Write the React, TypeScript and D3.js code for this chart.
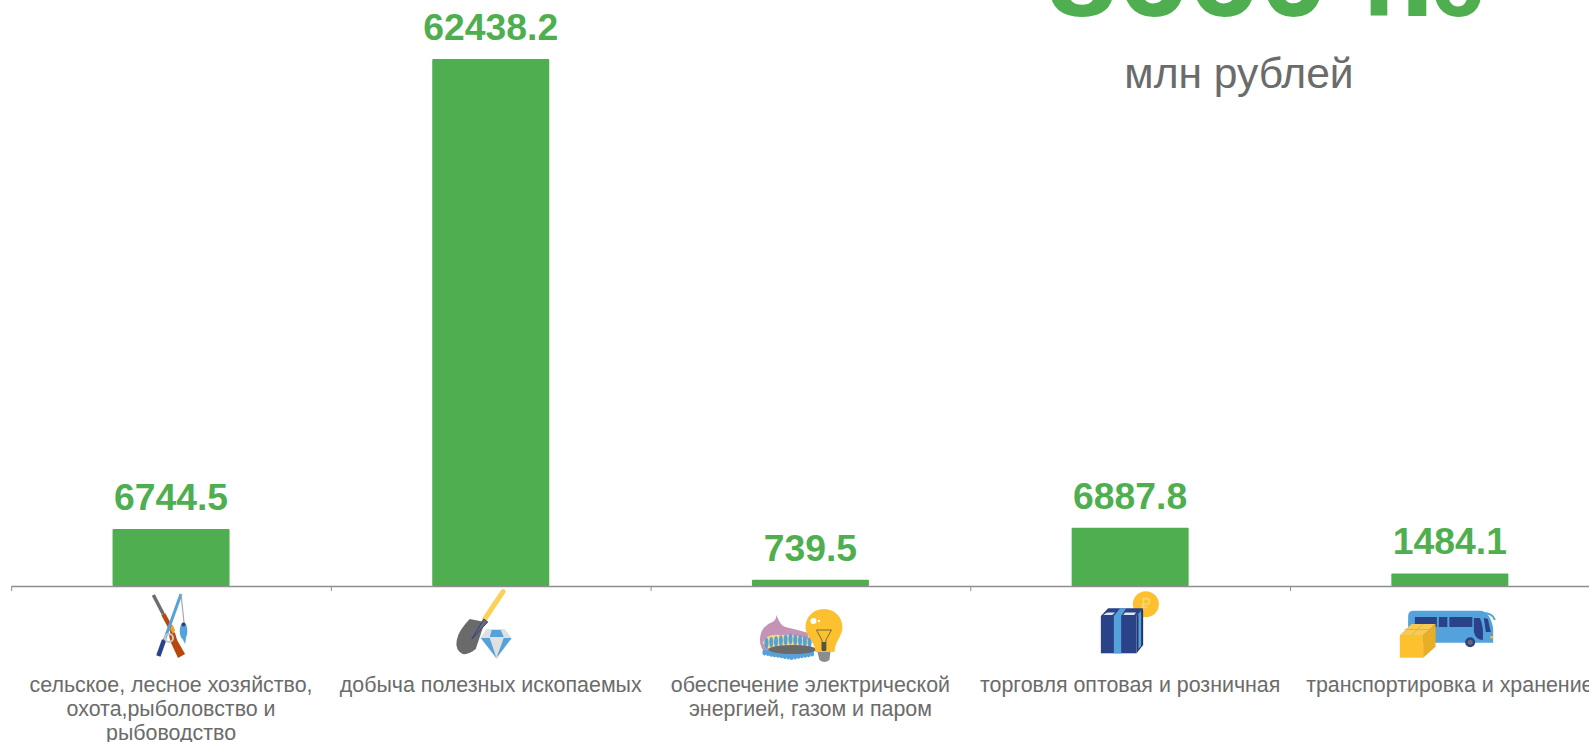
import * as d3 from 'd3'
import { useEffect, useRef } from 'react'

const categories = ['agro', 'mining', 'energy', 'trade', 'transport']
const values = [6744.5, 62438.2, 739.5, 6887.8, 1484.1]
const labelLines = [
  ['сельское, лесное хозяйство,', 'охота,рыболовство и', 'рыбоводство'],
  ['добыча полезных ископаемых'],
  ['обеспечение электрической', 'энергией, газом и паром'],
  ['торговля оптовая и розничная'],
  ['транспортировка и хранение']
]
const totalText = '86604.6'
const unitText = 'млн рублей'

const WIDTH = 1589
const HEIGHT = 742
const FONT = '"Liberation Sans", Arial, sans-serif'
const GREEN = '#4fae50'
const GREY = '#6b6b6b'
const NAVY = '#2b4288'
const BLUE = '#52a2dc'
const YELLOW = '#fdc02f'

const x = d3.scaleBand().domain(categories).range([11.2, 1609.7]).paddingInner(0.634).paddingOuter(0.317)
const y = d3.scaleLinear().domain([0, 62438.2]).range([586, 59])
const edges = d3.scaleLinear().domain([0, 5]).range([11.2, 1609.7])

const FishingIcon = () => (
  <g>
    <line x1={-17.7} y1={9} x2={-7.7} y2={28.3} stroke="#6d6d6d" strokeWidth={3.5} />
    <line x1={-7.7} y1={28.3} x2={1.7} y2={45.7} stroke="#b8470f" strokeWidth={4.5} />
    <path d="M0,44 L4,47 L6,54 L14,68 L7,72 L0,57 L-2,50 Z" fill="#b8470f" />
    <line x1={10} y1={8} x2={-7} y2={55} stroke={BLUE} strokeWidth={3} />
    <line x1={-7} y1={54} x2={-12.7} y2={70} stroke={NAVY} strokeWidth={4.5} />
    <line x1={10} y1={8} x2={13} y2={37} stroke="#a8a8a8" strokeWidth={1.2} />
    <path d="M1,38 L4,44 L2,48 L-1,43 Z" fill="#f0a030" />
    <circle cx={-2} cy={52} r={4} fill="none" stroke="#c8c8c8" strokeWidth={2} />
    <ellipse cx={12.5} cy={45} rx={3.8} ry={8.5} fill={BLUE} />
    <path d="M11,52 L15,52 L14,58 Z" fill={BLUE} />
    <circle cx={12.5} cy={38.5} r={2} fill={NAVY} />
  </g>
)

const MiningIcon = () => (
  <g>
    <line x1={12.3} y1={5.7} x2={-6} y2={33} stroke="#fdd05a" strokeWidth={5} strokeLinecap="round" />
    <path d="M-21,33 L-6,36 L-11,51 L-15,63 Q-22,69 -28,68 Q-36,64 -34,54 Q-32,44 -21,33 Z" fill="#6b6b6b" />
    <path d="M-7,33 L-3,36 L-19,53 Z" fill="#6b6b6b" stroke={NAVY} strokeWidth={1} />
    <path d="M-4.3,43 L14,43 L20.7,51.7 L5.7,73 L-10.3,51.7 Z" fill="#e0e0e0" />
    <path d="M1,44 L10,44 L13,51 L-1,51 Z" fill={BLUE} />
    <path d="M-10,52 L-1,52 L5.7,72 Z" fill={BLUE} />
    <path d="M21,52 L13,52 L5.7,72 Z" fill={BLUE} />
  </g>
)

const EnergyIcon = () => (
  <g>
    <path d="M-50.6,54 Q-50,40 -38,36 Q-34,34 -34,29 Q-30,40 -25,41 Q-12,44 -2,47 L-2,66 Q-20,74 -40,70 Q-50,66 -50.6,54 Z" fill="#c593b6" />
    <path d="M-48,57 Q-44,47 -30,49 Q-14,48 -2,54 L-2,66 L-38,66 Z" fill="#fdd872" />
    {d3.range(-44, 2, 4.8).map((d) => (
      <ellipse key={d} cx={d} cy={57 - Math.max(0, 4 - Math.abs(d + 20) / 6)} rx={2} ry={5.5} fill={BLUE} />
    ))}
    {d3.range(-46, 4, 3.4).map((d) => (
      <ellipse key={d} cx={d} cy={71 - Math.abs(d + 19) / 6} rx={2} ry={3} fill={BLUE} />
    ))}
    <ellipse cx={-18} cy={63.5} rx={24} ry={4.5} fill="#6b6b6b" />
    <path d="M13.4,23 C25,23 32,32 32,41 C32,50 25,54 24,66 L5,66 C4,54 -5,50 -5,41 C-5,32 2,23 13.4,23 Z" fill={YELLOW} />
    <circle cx={3} cy={35} r={3} fill="#fff" />
    <circle cx={8.5} cy={35} r={1.2} fill="#fff" />
    <path d="M6,44 L21,44 L15.5,54 L15.5,64 L11.5,64 L11.5,54 Z" fill="none" stroke="#6d6d3a" strokeWidth={1} />
    <rect x={11.5} y={56} width={4} height={9} fill="#55553a" />
    <path d="M7,66 L20,66 L19,74 Q14,78 9,74 Z" fill="#8c8c8c" />
  </g>
)

const TradeIcon = () => (
  <g>
    <circle cx={15.7} cy={18.3} r={13} fill={YELLOW} />
    <text x={15.7} y={24} fontSize={17} textAnchor="middle" fill="#fdd872" fontFamily={FONT}>₽</text>
    <path d="M-29.3,30 L-22,22.3 L13,22.3 L6.4,30 Z" fill={NAVY} />
    <path d="M6.4,30 L13,22.3 L13,59 L6.4,67.3 Z" fill="#22366f" />
    <rect x={-29.3} y={30} width={35.7} height={37.3} fill={NAVY} />
    <rect x={-16.3} y={30} width={7.3} height={37.3} fill={BLUE} />
    <path d="M-16.3,30 L-9,30 L-4,22.3 L-10,22.3 Z" fill={BLUE} />
    <path d="M8.3,28 L11,25 L11,60 L8.3,63 Z" fill={BLUE} />
    <path d="M-27,29 L-18,29 L-15,26.5 L-23,26.5 Z M-7,29 L4,29 L6,26.5 L-5,26.5 Z" fill="#dfe6f2" />
  </g>
)

const TransportIcon = () => (
  <g>
    <path d="M-41.7,56.7 L-41.7,30 Q-41.7,24.7 -36,24.7 L30,24.7 Q40,25 43.3,42 L43.3,56.7 Z" fill={BLUE} />
    <path d="M33,27 Q43,27 45,34" fill="none" stroke={BLUE} strokeWidth={2} />
    <rect x={-35} y={31} width={22} height={10} fill={NAVY} />
    <rect x={-11} y={31} width={8.5} height={10} fill={NAVY} />
    <rect x={-0.5} y={31} width={23} height={10} fill={NAVY} />
    <path d="M24,32 L30,32 Q34,40 33,54 Q26,54 24,46 Z" fill={NAVY} />
    <path d="M34,32 L38,33 L41,46 L36,46 Z" fill={NAVY} />
    <rect x={40.5} y={50} width={2.5} height={2.5} fill={YELLOW} />
    <circle cx={20.3} cy={56.3} r={5} fill={NAVY} />
    <circle cx={20.3} cy={56.3} r={2.5} fill="#6b6b6b" />
    <rect x={-43} y={42} width={2} height={6} fill="#e8506a" />
    <path d="M-50,49 L-38.3,38 L-14.3,38 L-26.7,49 Z" fill="#f7ca52" />
    <path d="M-26.7,49 L-14.3,38 L-14.3,60.7 L-26.7,71.7 Z" fill="#e8ae26" />
    <rect x={-50} y={49} width={23.3} height={22.7} fill={YELLOW} />
    <path d="M-38,49 L-27,38 M-45,43.5 L-20,43.5" stroke="#e8ae26" strokeWidth={0.8} fill="none" />
  </g>
)

const icons = [FishingIcon, MiningIcon, EnergyIcon, TradeIcon, TransportIcon]

export default function App() {
  const axisRef = useRef<SVGGElement>(null)

  useEffect(() => {
    const axis = d3
      .axisBottom(edges)
      .tickValues(d3.range(0, 6))
      .tickSize(5)
      .tickSizeOuter(0)
      .tickFormat(() => '')
    const g = d3.select(axisRef.current).call(axis as any)
    g.select('.domain').attr('stroke', '#8e8e8e').attr('stroke-width', 1.5)
    g.selectAll('.tick line').attr('stroke', '#8e8e8e').attr('stroke-width', 1)
  }, [])

  return (
    <svg
      width={WIDTH}
      height={HEIGHT}
      style={{ position: 'absolute', left: 0, top: 0, background: '#fff' }}
      fontFamily={FONT}
    >
      <defs>
        <filter id="soft">
          <feGaussianBlur stdDeviation={0.4} />
        </filter>
      </defs>
      <g ref={axisRef} transform={`translate(0,${y(0)})`} />
      {categories.map((c, i) => {
        const Icon = icons[i]
        const cx = x(c)! + x.bandwidth() / 2
        return (
          <g key={c}>
            <rect
              x={x(c)}
              y={y(values[i])}
              width={x.bandwidth()}
              height={y(0) - y(values[i])}
              rx={1}
              fill={GREEN}
            />
            <text
              x={cx}
              y={y(values[i]) - 19}
              textAnchor="middle"
              fontSize={37.3}
              fontWeight="bold"
              fill={GREEN}
            >
              {values[i].toFixed(1)}
            </text>
            <g transform={`translate(${cx},${y(0)})`} filter="url(#soft)">
              <Icon />
            </g>
            <text textAnchor="middle" fontSize={21.4} fill={GREY}>
              {labelLines[i].map((line, j) => (
                <tspan key={line} x={cx} y={691.5 + j * 24.3}>
                  {line}
                </tspan>
              ))}
            </text>
          </g>
        )
      })}
      <text x={1046.6} y={15.7} fontSize={127} fontWeight="bold" fill={GREEN}>
        {totalText.slice(0, -1)}
        <tspan fontSize={98} dx={-5}>{totalText.slice(-1)}</tspan>
      </text>
      <text x={1239} y={88} textAnchor="middle" fontSize={42.6} fill={GREY}>
        {unitText}
      </text>
    </svg>
  )
}
